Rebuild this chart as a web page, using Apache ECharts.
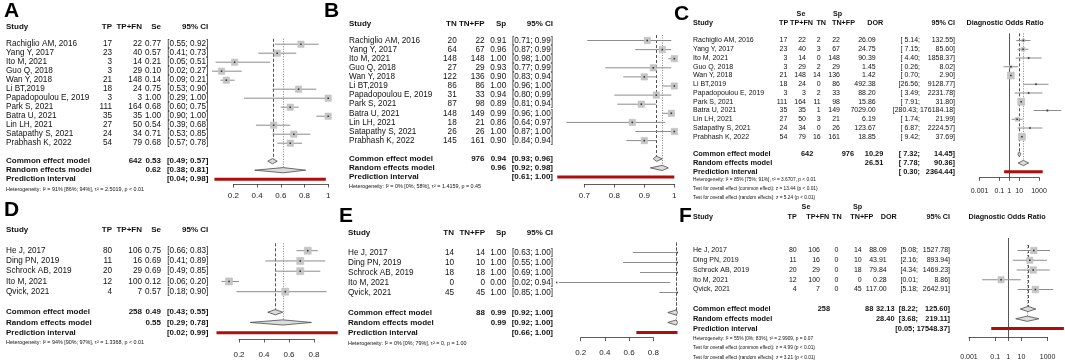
<!DOCTYPE html>
<html><head><meta charset="utf-8">
<script src="https://cdn.jsdelivr.net/npm/echarts@6/dist/echarts.min.js"></script>
<style>html,body{margin:0;padding:0;background:#fff}#c{width:1065px;height:362px}</style>
</head><body><div id="c"></div>
<script>
// ================= DATA =================
const studies12 = ["Rachiglio AM, 2016","Yang Y, 2017","Ito M, 2021","Guo Q, 2018","Wan Y, 2018","Li BT,2019","Papadopoulou E, 2019","Park S, 2021","Batra U, 2021","Lin LH, 2021","Satapathy S, 2021","Prabhash K, 2022"];
const tpA   = [17,23,3,3,21,18,3,111,35,27,24,54];
const tpfnA = [22,40,14,29,148,24,3,164,35,50,34,79];
const seA   = [0.77,0.57,0.21,0.10,0.14,0.75,1.00,0.68,1.00,0.54,0.71,0.68];
const seLoA = [0.55,0.41,0.05,0.02,0.09,0.53,0.29,0.60,0.90,0.39,0.53,0.57];
const seHiA = [0.92,0.73,0.51,0.27,0.21,0.90,1.00,0.75,1.00,0.68,0.85,0.78];
const weightA = [1,1,1,1,1,1,1,1,1,1,1,1];
const totalA = 642;
const commonA = [0.53,0.49,0.57];
const randomA = [0.62,0.38,0.81];
const predA = [0.04,0.98];
const hetA = "Heterogeneity: I² = 91% [86%; 94%], τ² = 2.5019, p < 0.01";
const ticksA = [0.2,0.4,0.6,0.8,1];

const tnB   = [20,64,148,27,122,86,31,87,148,18,26,145];
const tnfpB = [22,67,148,29,136,86,33,98,149,21,26,161];
const spB   = [0.91,0.96,1.00,0.93,0.90,1.00,0.94,0.89,0.99,0.86,1.00,0.90];
const spLoB = [0.71,0.87,0.98,0.77,0.83,0.96,0.80,0.81,0.96,0.64,0.87,0.84];
const spHiB = [0.99,0.99,1.00,0.99,0.94,1.00,0.99,0.94,1.00,0.97,1.00,0.94];
const weightB = [1,1,1,1,1,1,1,1,1,1,1,1];
const totalB = 976;
const commonB = [0.94,0.93,0.96];
const randomB = [0.96,0.92,0.98];
const predB = [0.61,1.00];
const hetB = "Heterogeneity: I² = 0% [0%; 58%], τ² = 1.4159, p = 0.45";
const ticksB = [0.7,0.8,0.9,1];

const tpC   = [17,23,3,3,21,18,3,111,35,27,24,54];
const tpfnC = [22,40,14,29,148,24,3,164,35,50,34,79];
const tnC   = [2,3,0,2,14,0,2,11,1,3,0,16];
const tnfpC = [22,67,148,29,136,86,33,98,149,21,26,161];
const dorC  = [26.09,24.75,90.39,1.45,1.42,492.38,88.20,15.86,7029.00,6.19,123.67,18.85];
const dorLoC = [5.14,7.15,4.40,0.26,0.70,26.56,3.49,7.91,280.43,1.74,6.87,9.42];
const dorHiC = [132.55,85.60,1858.37,8.02,2.90,9128.77,2231.78,31.80,176184.18,21.99,2224.57,37.69];
const weightC = [1.5,2.5,0.4,1.3,7.6,0.45,0.37,7.9,0.37,2.4,0.46,8.0];
const totalsC = [642,976];
const commonC = [10.29,7.32,14.45];
const randomC = [26.51,7.78,90.36];
const predC = [0.30,2364.44];
const hetC = ["Heterogeneity: I² = 85% [75%; 91%], τ² = 3.6707, p < 0.01","Test for overall effect (common effect): z = 13.44 (p < 0.01)","Test for overall effect (random effects): z = 5.24 (p < 0.01)"];
const ticksC = [0.001,0.1,1,10,1000];

const studies5 = ["He J, 2017","Ding PN, 2019","Schrock AB, 2019","Ito M, 2021","Qvick, 2021"];
const tpD   = [80,11,20,12,4];
const tpfnD = [106,16,29,100,7];
const seD   = [0.75,0.69,0.69,0.12,0.57];
const seLoD = [0.66,0.41,0.49,0.06,0.18];
const seHiD = [0.83,0.89,0.85,0.20,0.90];
const weightD = [1,1,1,1,1];
const totalD = 258;
const commonD = [0.49,0.43,0.55];
const randomD = [0.55,0.29,0.78];
const predD = [0.02,0.99];
const hetD = "Heterogeneity: I² = 94% [90%; 97%], τ² = 1.3368, p < 0.01";
const ticksD = [0.2,0.4,0.6,0.8];

const tnE   = [14,10,18,0,45];
const tnfpE = [14,10,18,0,45];
const spE   = [1.00,1.00,1.00,0.00,1.00];
const spLoE = [0.63,0.55,0.69,0.02,0.85];
const spHiE = [1.00,1.00,1.00,0.94,1.00];
const weightE = [1,1,1,1,1];
const totalE = 88;
const commonE = [0.99,0.92,1.00];
const randomE = [0.99,0.92,1.00];
const predE = [0.66,1.00];
const hetE = "Heterogeneity: I² = 0% [0%; 79%], τ² = 0, p = 1.00";
const ticksE = [0.2,0.4,0.6,0.8];

const tpF   = [80,11,20,12,4];
const tpfnF = [106,16,29,100,7];
const tnF   = [0,0,0,0,0];
const tnfpF = [14,10,18,0,45];
const dorF  = [88.09,43.91,79.84,0.28,117.00];
const dorLoF = [5.08,2.16,4.34,0.01,5.18];
const dorHiF = [1527.78,893.94,1469.23,8.86,2642.91];
const weightF = [1,0.9,1,0.9,1];
const totalsF = [258,88];
const commonF = [32.13,8.22,125.60];
const randomF = [28.40,3.68,219.11];
const predF = [0.05,17548.37];
const hetF = ["Heterogeneity: I² = 55% [0%; 83%], τ² = 2.9909, p = 0.07","Test for overall effect (common effect): z = 4.99 (p < 0.01)","Test for overall effect (random effects): z = 3.21 (p < 0.01)"];
const ticksF = [0.001,0.1,1,10,1000];

// ================= BUILD =================
const FF = '"Liberation Sans", Arial, Helvetica, sans-serif';
const grids = [], xAxis = [], yAxis = [], series = [], graphic = [];
const f2 = v => v.toFixed(2);
const ci = (lo, hi) => '[' + f2(lo) + '; ' + f2(hi) + ']';
const fmtTick = v => String(+(+v).toFixed(4));
const mctx = document.createElement('canvas').getContext('2d');
const tw = (s, font) => { mctx.font = font; return mctx.measureText(s).width; };

function addGrid(rect, xa, ya) {
  grids.push(Object.assign({show: false, containLabel: false}, rect));
  const i = grids.length - 1;
  xAxis.push(Object.assign({gridIndex: i}, xa));
  yAxis.push(Object.assign({gridIndex: i}, ya));
  return i;
}

function dataGrid(p) {
  const xa = p.log
    ? {type: 'log', logBase: 10, min: p.xmin, max: p.xmax, show: false}
    : {type: 'value', min: p.xmin, max: p.xmax, show: false};
  const span = p.log ? (Math.log10(p.xmax) - Math.log10(p.xmin)) : (p.xmax - p.xmin);
  return addGrid({left: p.left, width: span * p.ppu, top: p.y0 + p.rmin * p.s, height: (p.rmax - p.rmin) * p.s},
    xa, {type: 'value', min: p.rmin, max: p.rmax, inverse: true, show: false});
}

function axisGrid(p, ticks) {
  const tv = p.log ? ticks.map(t => Math.log10(t)) : ticks;
  const base = p.log ? Math.log10(p.xmin) : p.xmin;
  const L = p.left + (tv[0] - base) * p.ppu;
  const R = p.left + (tv[tv.length - 1] - base) * p.ppu;
  addGrid({left: L, width: R - L, top: p.axY - 10, height: 10},
    {type: 'value', min: tv[0], max: tv[tv.length - 1], position: 'bottom',
     axisLine: {show: true, onZero: false, lineStyle: {color: '#333', width: 0.8}},
     axisTick: {show: true, length: p.tickLen, customValues: tv, lineStyle: {color: '#333', width: 0.8}},
     axisLabel: {show: true, customValues: tv, margin: p.labMargin, fontSize: p.axFont, fontFamily: FF, color: '#222',
       formatter: v => p.log ? fmtTick(ticks[tv.findIndex(t => Math.abs(t - v) < 1e-6)]) : fmtTick(v)},
     splitLine: {show: false}},
    {type: 'value', min: 0, max: 1, show: false});
}

function tableSeries(gi, p, rows) {
  const xref = p.log ? 1 : p.xmin;
  series.push({
    type: 'custom', xAxisIndex: gi, yAxisIndex: gi, clip: false, silent: true, animation: false, z: 5,
    data: rows.map(r => [xref, r.row]),
    renderItem: (params, api) => {
      const r = rows[params.dataIndex];
      const y = api.coord([xref, api.value(1)])[1];
      return {type: 'group', children: r.cells.map(c => ({
        type: 'text', x: c[1], y: y,
        style: {text: c[0], font: c[3], fill: '#111', textAlign: c[2], textVerticalAlign: 'middle', align: c[2], verticalAlign: 'middle'}
      }))};
    }
  });
}

function studySeries(gi, p, est, lo, hi, w, clip) {
  const wmax = Math.max(...w);
  series.push({
    type: 'custom', xAxisIndex: gi, yAxisIndex: gi, clip: !!clip, silent: true, animation: false, z: 3,
    data: est.map((e, i) => [e, i, lo[i], hi[i], w[i]]),
    renderItem: (params, api) => {
      const c = api.coord([api.value(0), api.value(1)]);
      const a = api.coord([api.value(2), api.value(1)]);
      const b = api.coord([api.value(3), api.value(1)]);
      const sz = Math.max(p.boxMin, p.boxMax * Math.sqrt(api.value(4) / wmax));
      return {type: 'group', children: [
        {type: 'line', shape: {x1: a[0], y1: a[1], x2: b[0], y2: b[1]}, style: {stroke: '#8c8c8c', lineWidth: 1}},
        {type: 'rect', shape: {x: c[0] - sz / 2, y: c[1] - sz / 2, width: sz, height: sz}, style: {fill: '#c6c6c6', stroke: '#b8b8b8', lineWidth: 0.5}},
        {type: 'rect', shape: {x: c[0] - 0.8, y: c[1] - 0.8, width: 1.6, height: 1.6}, style: {fill: '#333'}}
      ]};
    }
  });
}

function summarySeries(gi, p, common, random, pred, clip) {
  const R = p.rows;
  series.push({
    type: 'custom', xAxisIndex: gi, yAxisIndex: gi, clip: !!clip, silent: true, animation: false, z: 4,
    data: [[common[0], R.common, common[1], common[2], 0], [random[0], R.random, random[1], random[2], 1], [(pred[0] + pred[1]) / 2, R.pred, pred[0], pred[1], 2]],
    renderItem: (params, api) => {
      const kind = api.value(4), row = api.value(1);
      const a = api.coord([api.value(2), row]), b = api.coord([api.value(3), row]);
      if (kind === 2) {
        return {type: 'line', shape: {x1: a[0], y1: a[1], x2: b[0], y2: b[1]}, style: {stroke: '#b00c0c', lineWidth: 3}};
      }
      const c = api.coord([api.value(0), row]);
      const h = 2.6;
      return {type: 'polygon', shape: {points: [[a[0], a[1]], [c[0], c[1] - h], [b[0], b[1]], [c[0], c[1] + h]]},
        style: {fill: '#dcdcdc', stroke: '#4a4a4a', lineWidth: 0.8}};
    }
  });
}

function refSeries(gi, p, lines, clip) {
  series.push({
    type: 'custom', xAxisIndex: gi, yAxisIndex: gi, clip: !!clip, silent: true, animation: false, z: 2,
    data: lines,
    renderItem: (params, api) => {
      const s = api.value(3);
      const a = api.coord([api.value(0), api.value(1)]), b = api.coord([api.value(0), api.value(2)]);
      const st = s === 0 ? {stroke: '#222', lineWidth: 0.8, lineDash: [3, 2]}
              : s === 1 ? {stroke: '#666', lineWidth: 0.8, lineDash: [1, 1.5]}
              : {stroke: '#444', lineWidth: 0.9};
      const x = Math.round(a[0]) + 0.5;
      return {type: 'line', shape: {x1: x, y1: a[1], x2: x, y2: b[1]}, style: st};
    }
  });
}

function singlePanel(p, names, c1, c2, est, lo, hi, w, total, common, random, pred, het, hdr, ticks) {
  const gi = dataGrid(p);
  axisGrid(p, ticks);
  const X = p.cols, B = 'bold ' + p.fb + 'px ' + FF, Rf = p.fr + 'px ' + FF, S = p.fs + 'px ' + FF;
  const rows = [];
  rows.push({row: p.hdrRow, cells: [[hdr[0], X.name, 'left', B], [hdr[1], X.c1, 'right', B], [hdr[2], X.c2, 'right', B], [hdr[3], X.c3, 'right', B], [hdr[4], X.ci, 'right', B]]});
  names.forEach((n, i) => rows.push({row: i, cells: [[n, X.name, 'left', Rf], [String(c1[i]), X.c1, 'right', Rf], [String(c2[i]), X.c2, 'right', Rf], [f2(est[i]), X.c3, 'right', Rf], [ci(lo[i], hi[i]), X.ci, 'right', Rf]]}));
  rows.push({row: p.rows.common, cells: [['Common effect model', X.name, 'left', B], [String(total), X.c2, 'right', B], [f2(common[0]), X.c3, 'right', B], [ci(common[1], common[2]), X.ci, 'right', B]]});
  rows.push({row: p.rows.random, cells: [['Random effects model', X.name, 'left', B], [f2(random[0]), X.c3, 'right', B], [ci(random[1], random[2]), X.ci, 'right', B]]});
  rows.push({row: p.rows.pred, cells: [['Prediction interval', X.name, 'left', B], [ci(pred[0], pred[1]), X.ci, 'right', B]]});
  rows.push({row: p.rows.het, cells: [[het, X.name, 'left', S]]});
  tableSeries(gi, p, rows);
  refSeries(gi, p, [[common[0], p.vTop, p.rows.common, 0], [random[0], p.vTop, p.rows.random, 1]], p.clip);
  studySeries(gi, p, est, lo, hi, w, p.clip);
  summarySeries(gi, p, common, random, pred, p.clip);
}

function dorPanel(p, names, tp, tpfn, tn, tnfp, dor, lo, hi, w, totals, common, random, pred, hets, ticks) {
  const gi = dataGrid(p);
  axisGrid(p, ticks);
  const X = p.cols, B = 'bold ' + p.fb + 'px ' + FF, H = 'bold ' + p.fh + 'px ' + FF, Rf = p.fr + 'px ' + FF, S = p.fs + 'px ' + FF;
  const ciCells = (l, h, font) => {
    const hs = f2(h) + ']';
    const hiLeft = X.cihi - tw(hs, font);
    const loRight = Math.min(X.cilo, hiLeft - tw(' ', font));
    return [['[' + (p.padLo && l < 10 ? ' ' : '') + f2(l) + ';', loRight, 'right', font], [hs, X.cihi, 'right', font]];
  };
  const rows = [];
  rows.push({row: p.sespRow, cells: [['Se', X.se, 'center', H], ['Sp', X.sp, 'center', H]]});
  rows.push({row: p.hdrRow, cells: [['Study', X.name, 'left', H], ['TP', X.c1h, 'right', H], ['TP+FN', X.c2h, 'right', H], ['TN', X.c3h, 'right', H], ['TN+FP', X.c4h, 'right', H], ['DOR', X.c5h, 'right', H], ['95% CI', X.cihi, 'right', H], ['Diagnostic Odds Ratio', X.title, 'center', H]]});
  names.forEach((n, i) => rows.push({row: i, cells: [[n, X.name, 'left', Rf], [String(tp[i]), X.c1, 'right', Rf], [String(tpfn[i]), X.c2r, 'right', Rf], [String(tn[i]), X.c3r, 'right', Rf], [String(tnfp[i]), X.c4r, 'right', Rf], [f2(dor[i]), X.c5r, 'right', Rf]].concat(ciCells(lo[i], hi[i], Rf))}));
  rows.push({row: p.rows.common, cells: [['Common effect model', X.name, 'left', B], [String(totals[0]), X.c2b, 'right', B], [String(totals[1]), X.c4b, 'right', B], [f2(common[0]), X.c5b, 'right', B]].concat(ciCells(common[1], common[2], B))});
  rows.push({row: p.rows.random, cells: [['Random effects model', X.name, 'left', B], [f2(random[0]), X.c5b, 'right', B]].concat(ciCells(random[1], random[2], B))});
  rows.push({row: p.rows.pred, cells: [['Prediction interval', X.name, 'left', B]].concat(ciCells(pred[0], pred[1], B))});
  hets.forEach((h, k) => rows.push({row: p.rows.het + k * p.hetStep, cells: [[h, X.name, 'left', S]]}));
  tableSeries(gi, p, rows);
  refSeries(gi, p, [[1, p.vTopRef, p.vBotRef, 2], [common[0], p.vTop, p.rows.common, 0], [random[0], p.vTop, p.rows.random, 1]], false);
  studySeries(gi, p, dor, lo, hi, w, false);
  summarySeries(gi, p, common, random, pred, false);
}

// ----- layouts -----
const LA = {xmin: 0, xmax: 1, left: 209.7, ppu: 118.5, y0: 44.2, s: 9.0, rmin: -4.5, rmax: 17, hdrRow: -1.94,
  rows: {common: 13, random: 14, pred: 15, het: 16.2}, vTop: -0.6,
  axY: 184, tickLen: 3.5, labMargin: 7.5, axFont: 8, fr: 8.2, fb: 8, fs: 5.4, boxMax: 6.3, boxMin: 2,
  cols: {name: 6, c1: 112, c2: 142, c3: 161, ci: 208.3}};
const LB = {xmin: 0.6, xmax: 1.0, left: 554.3, ppu: 300, y0: 40.5, s: 9.1, rmin: -4, rmax: 17, hdrRow: -1.89,
  rows: {common: 13, random: 14, pred: 15, het: 16.1}, vTop: -0.6,
  axY: 184, tickLen: 3.5, labMargin: 7.5, axFont: 8, fr: 8.2, fb: 8, fs: 5.4, boxMax: 6.3, boxMin: 2,
  cols: {name: 349, c1: 456.7, c2: 484.5, c3: 506.2, ci: 553}};
const LC = {log: true, xmin: 1e-4, xmax: 1e5, left: 969.7, ppu: 9.9, y0: 40.5, s: 8.75, rmin: -4, rmax: 18.5, hdrRow: -1.97, sespRow: -3.03,
  rows: {common: 13, random: 14, pred: 15, het: 15.95}, hetStep: 1, vTop: -0.82, vTopRef: -0.82, vBotRef: 15.63, padLo: true,
  axY: 177.3, tickLen: 3.5, labMargin: 10, axFont: 7, fr: 7, fb: 7.4, fh: 7.2, fs: 4.8, boxMax: 7, boxMin: 1.8,
  cols: {name: 693, c1: 787.3, c1h: 788.3, c2r: 806, c2b: 813.3, c2h: 813, c3r: 820.7, c3h: 826, c4r: 840, c4b: 854, c4h: 855,
         c5r: 875.7, c5b: 883.3, c5h: 883.3, cilo: 920, cihi: 955, se: 801, sp: 837.5, title: 1005}};
const LD = {xmin: 0, xmax: 1, left: 214, ppu: 125, y0: 250.7, s: 10.25, rmin: -4, rmax: 10.5, hdrRow: -2.02,
  rows: {common: 6, random: 7, pred: 8, het: 9}, vTop: -0.72,
  axY: 339, tickLen: 3.5, labMargin: 12, axFont: 8, fr: 8.2, fb: 8, fs: 5.4, boxMax: 7, boxMin: 2,
  cols: {name: 6, c1: 112, c2: 142, c3: 161, ci: 208.3}};
const LE = {xmin: 0, xmax: 1, left: 556.5, ppu: 121, y0: 252.5, s: 10, rmin: -4, rmax: 10.5, hdrRow: -2.02, clip: true,
  rows: {common: 6, random: 7, pred: 8, het: 9.08}, vTop: -1,
  axY: 337.7, tickLen: 3.5, labMargin: 10.6, axFont: 8, fr: 8.2, fb: 8, fs: 5.4, boxMax: 1.2, boxMin: 0.5,
  cols: {name: 348, c1: 454, c2: 485, c3: 506.2, ci: 553}};
const LF = {log: true, xmin: 1e-4, xmax: 1e4, left: 955.9, ppu: 13.1, y0: 250.5, s: 9.75, rmin: -4.6, rmax: 11.2, hdrRow: -3.47, sespRow: -4.5,
  rows: {common: 6, random: 7, pred: 8, het: 9}, hetStep: 1, vTop: -0.56, vTopRef: -1.28, vBotRef: 8.87, padLo: false,
  axY: 337, tickLen: 4, labMargin: 17, axFont: 7, fr: 7, fb: 7.4, fh: 7.2, fs: 4.8, boxMax: 6.5, boxMin: 1.8,
  cols: {name: 693, c1: 796.7, c1h: 796.7, c2r: 820, c2b: 830, c2h: 829.3, c3r: 838.3, c3h: 841.7, c4r: 861.7, c4b: 873.3, c4h: 873.3,
         c5r: 886.7, c5b: 894.5, c5h: 896.7, cilo: 918, cihi: 950, se: 806, sp: 857.5, title: 1007}};

singlePanel(LA, studies12, tpA, tpfnA, seA, seLoA, seHiA, weightA, totalA, commonA, randomA, predA, hetA, ['Study','TP','TP+FN','Se','95% CI'], ticksA);
singlePanel(LB, studies12, tnB, tnfpB, spB, spLoB, spHiB, weightB, totalB, commonB, randomB, predB, hetB, ['Study','TN','TN+FP','Sp','95% CI'], ticksB);
dorPanel(LC, studies12, tpC, tpfnC, tnC, tnfpC, dorC, dorLoC, dorHiC, weightC, totalsC, commonC, randomC, predC, hetC, ticksC);
singlePanel(LD, studies5, tpD, tpfnD, seD, seLoD, seHiD, weightD, totalD, commonD, randomD, predD, hetD, ['Study','TP','TP+FN','Se','95% CI'], ticksD);
singlePanel(LE, studies5, tnE, tnfpE, spE, spLoE, spHiE, weightE, totalE, commonE, randomE, predE, hetE, ['Study','TN','TN+FP','Sp','95% CI'], ticksE);
dorPanel(LF, studies5, tpF, tpfnF, tnF, tnfpF, dorF, dorLoF, dorHiF, weightF, totalsF, commonF, randomF, predF, hetF, ticksF);

// panel letters
[['A', 4, 10.8], ['B', 324, 10.8], ['C', 674, 14.2], ['D', 4, 210.5], ['E', 339, 216.5], ['F', 679, 216.7]].forEach(l => {
  graphic.push({type: 'text', x: l[1], y: l[2], silent: true,
    style: {text: l[0], font: 'bold 21px ' + FF, fill: '#000', textAlign: 'left', textVerticalAlign: 'middle', align: 'left', verticalAlign: 'middle'}});
});

const chart = echarts.init(document.getElementById('c'), null, {renderer: 'canvas', width: 1065, height: 362});
chart.setOption({animation: false, backgroundColor: '#fff', grid: grids, xAxis: xAxis, yAxis: yAxis, series: series, graphic: graphic});
</script>
</body></html>
